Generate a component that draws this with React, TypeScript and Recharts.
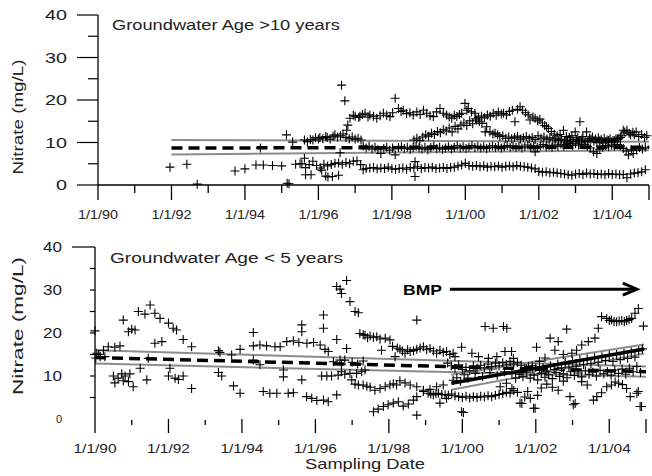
import React from "react";
import { ComposedChart, Scatter, Line, XAxis, YAxis, ReferenceLine } from "recharts";

const FONT = "'Liberation Sans', Arial, Helvetica, sans-serif";

const yearTicks = [1990, 1991, 1992, 1993, 1994, 1995, 1996, 1997, 1998, 1999, 2000, 2001, 2002, 2003, 2004, 2005];
const nitrateTicks = [0, 5, 10, 15, 20, 25, 30, 35, 40];

// ---- top panel: groundwater age > 10 years ----
const topEarly = [
  [1991.96, 4.2], [1992.42, 4.9], [1992.7, 0.2], [1993.73, 3.3], [1994.0, 3.8], [1994.3, 4.7], [1994.42, 8.7],
  [1994.5, 4.7], [1994.75, 4.6], [1995.0, 4.5], [1995.13, 11.8], [1995.15, 0.4], [1995.2, 0.3], [1995.3, 10.1],
  [1995.38, 4.9], [1995.5, 5.0], [1995.62, 6.3], [1995.65, 2.4], [1995.8, 2.4], [1996.09, 3.5], [1996.2, 2.1],
  [1996.26, 1.9], [1996.38, 2.0], [1996.55, 2.3], [1996.59, 7.6], [1998.63, 5.5], [1998.63, 2.0], [1998.09, 7.1],
];
const topLow = [
  [1995.55, 5.0], [1995.65, 4.1], [1995.75, 4.8], [1995.85, 5.6], [1995.95, 4.6], [1996.05, 4.0], [1996.15, 4.9],
  [1996.25, 4.5], [1996.35, 4.8], [1996.45, 5.1], [1996.55, 5.2], [1996.65, 4.9], [1996.75, 5.3], [1996.85, 5.0],
  [1996.95, 5.6], [1997.05, 5.7], [1997.15, 4.8], [1997.22, 3.6], [1997.3, 3.9], [1997.4, 4.0], [1997.5, 4.1],
  [1997.6, 3.8], [1997.7, 4.0], [1997.8, 3.9], [1997.9, 4.2], [1998.0, 3.8], [1998.1, 3.7], [1998.2, 3.9],
  [1998.3, 4.0], [1998.4, 3.7], [1998.5, 4.1], [1998.6, 4.0], [1998.7, 4.3], [1998.8, 3.9], [1998.9, 4.1],
  [1999.0, 4.0], [1999.1, 4.2], [1999.2, 3.9], [1999.3, 4.0], [1999.4, 4.1], [1999.5, 3.9], [1999.6, 4.1],
  [1999.7, 4.2], [1999.8, 4.5], [1999.9, 4.7], [2000.0, 5.1], [2000.1, 4.6], [2000.2, 4.4], [2000.3, 4.6],
  [2000.4, 4.3], [2000.5, 4.5], [2000.6, 4.2], [2000.7, 4.4], [2000.8, 4.3], [2000.9, 4.5], [2001.0, 4.2],
  [2001.1, 4.4], [2001.2, 4.5], [2001.3, 4.3], [2001.4, 4.6], [2001.5, 4.4], [2001.6, 4.3], [2001.7, 4.2],
  [2001.8, 4.0], [2001.9, 3.8], [2002.0, 3.2], [2002.1, 3.0], [2002.2, 3.1], [2002.3, 2.9], [2002.4, 3.0],
  [2002.5, 2.8], [2002.6, 2.7], [2002.7, 2.6], [2002.8, 2.4], [2002.9, 2.3], [2003.0, 2.6], [2003.1, 2.7],
  [2003.2, 2.5], [2003.3, 2.8], [2003.4, 2.6], [2003.5, 2.7], [2003.6, 2.5], [2003.7, 2.6], [2003.8, 2.4],
  [2003.9, 2.7], [2004.0, 2.5], [2004.1, 2.6], [2004.2, 2.4], [2004.3, 2.5], [2004.4, 1.7], [2004.5, 2.6],
  [2004.6, 2.8], [2004.7, 2.9], [2004.8, 3.1], [2004.9, 3.6],
];
const topHigh = [
  [1996.63, 23.5], [1996.72, 19.8], [1996.77, 12.9], [1996.8, 14.1], [1996.86, 15.7], [1996.95, 16.4], [1997.0, 16.2],
  [1997.1, 15.9], [1997.13, 16.2], [1997.2, 16.6], [1997.27, 16.9], [1997.35, 16.0], [1997.4, 16.5], [1997.5, 16.2],
  [1997.59, 15.7], [1997.68, 16.3], [1997.77, 16.9], [1997.86, 16.4], [1997.95, 16.1], [1998.02, 17.0], [1998.09, 20.4],
  [1998.18, 18.0], [1998.25, 17.3], [1998.31, 17.6], [1998.4, 16.8], [1998.49, 17.0], [1998.58, 16.5], [1998.68, 17.2],
  [1998.77, 16.6], [1998.86, 17.6], [1998.95, 16.9], [1999.04, 16.3], [1999.13, 16.1], [1999.22, 17.2], [1999.31, 18.0],
  [1999.4, 16.9], [1999.49, 16.5], [1999.56, 16.0], [1999.63, 15.7], [1999.7, 16.4], [1999.77, 16.1], [1999.84, 16.6],
  [1999.9, 16.9], [1999.99, 19.2], [2000.04, 17.6], [2000.08, 18.0], [2000.17, 17.2], [2000.26, 16.9], [2000.31, 15.3],
  [2000.38, 14.9], [2000.45, 14.5], [2000.54, 12.5], [2000.58, 13.7], [2000.67, 12.5], [2000.75, 12.0], [2000.81, 12.2],
  [2000.88, 11.8], [2000.94, 11.4], [2001.02, 11.6], [2001.1, 11.0], [2001.18, 11.3], [2001.26, 10.9], [2001.34, 11.2],
  [2001.42, 11.5], [2001.5, 10.8], [2001.58, 11.1], [2001.66, 11.4], [2001.74, 10.9], [2001.82, 11.2], [2001.9, 10.7],
  [2001.98, 11.6], [2002.06, 11.0], [2002.14, 11.3], [2002.22, 10.8], [2002.3, 11.1], [2002.38, 10.6], [2002.46, 10.9],
  [2002.54, 10.5], [2002.62, 10.8], [2002.7, 10.4], [2002.78, 10.1], [2002.86, 10.6], [2002.94, 10.3], [2003.02, 10.7],
  [2003.1, 10.4], [2003.18, 10.9], [2003.26, 10.2], [2003.34, 10.5], [2003.42, 10.8], [2003.5, 10.3], [2003.58, 10.0],
  [2003.66, 10.4], [2003.74, 9.9], [2003.82, 10.2], [2003.9, 10.5], [2003.98, 10.1], [2004.06, 10.4], [2004.14, 10.8],
  [2004.22, 11.2],
];
const topRise = [
  [1998.6, 10.6], [1998.68, 11.0], [1998.76, 10.5], [1998.84, 11.3], [1998.92, 11.8], [1999.0, 11.5], [1999.08, 12.2],
  [1999.16, 11.9], [1999.24, 12.6], [1999.32, 12.3], [1999.4, 13.0], [1999.48, 12.7], [1999.56, 13.4], [1999.64, 12.5],
  [1999.72, 13.8], [1999.8, 13.2], [1999.88, 14.1], [1999.96, 14.6], [2000.04, 14.0], [2000.12, 15.1], [2000.2, 14.4],
  [2000.28, 15.6], [2000.36, 15.9], [2000.44, 16.2], [2000.52, 15.8], [2000.6, 16.5], [2000.68, 16.2], [2000.76, 16.9],
  [2000.84, 16.4], [2000.9, 17.2], [2000.98, 16.7], [2001.04, 16.9], [2001.12, 16.5], [2001.2, 17.3], [2001.28, 17.6],
  [2001.35, 14.9], [2001.42, 17.8], [2001.49, 18.4], [2001.56, 17.6], [2001.64, 17.0], [2001.71, 16.5], [2001.76, 15.3],
  [2001.84, 16.0], [2001.9, 15.7], [2001.97, 15.1], [2002.03, 15.5], [2002.1, 14.6], [2002.16, 14.0], [2002.21, 13.7],
  [2002.26, 13.3], [2002.34, 12.6], [2002.42, 12.0], [2002.5, 11.6], [2002.58, 11.9], [2002.67, 12.9], [2002.75, 11.4],
  [2002.83, 11.2], [2002.9, 11.6], [2002.99, 12.5], [2003.06, 11.1], [2003.12, 14.9], [2003.2, 11.4], [2003.3, 12.5],
  [2003.38, 11.0], [2003.46, 11.3], [2003.54, 10.8], [2003.62, 11.1], [2003.7, 10.7], [2003.78, 11.0], [2003.86, 10.6],
  [2003.94, 10.9], [2004.02, 10.5], [2004.1, 10.8], [2004.18, 11.0], [2004.26, 11.6], [2004.3, 12.9], [2004.34, 12.5],
  [2004.4, 12.9], [2004.46, 12.2], [2004.5, 11.8], [2004.56, 12.4], [2004.6, 11.8], [2004.65, 12.5], [2004.72, 11.4],
  [2004.8, 11.9], [2004.88, 11.2], [2004.94, 11.6],
];
const topMid = [
  [1995.62, 10.6], [1995.7, 10.2], [1995.78, 10.7], [1995.85, 10.6], [1995.92, 11.1], [1996.0, 10.8], [1996.04, 11.2],
  [1996.12, 10.9], [1996.2, 11.4], [1996.24, 11.2], [1996.32, 10.8], [1996.4, 11.5], [1996.45, 11.8], [1996.52, 11.3],
  [1996.6, 11.6], [1996.67, 12.0], [1996.75, 11.2], [1996.84, 10.9], [1996.92, 11.3], [1997.0, 10.8], [1997.08, 11.0],
  [1997.16, 10.6], [1997.22, 9.2], [1997.3, 8.7], [1997.38, 9.1], [1997.46, 8.5], [1997.54, 8.9], [1997.62, 8.3],
  [1997.7, 7.4], [1997.78, 8.6], [1997.86, 8.9], [1997.94, 8.2], [1998.02, 8.7], [1998.18, 8.8], [1998.26, 9.0],
  [1998.34, 8.6], [1998.42, 8.9], [1998.5, 8.4], [1998.58, 8.8], [1998.66, 9.1], [1998.74, 8.7], [1998.82, 8.5],
  [1998.9, 8.9], [1998.98, 8.3], [1999.06, 8.8], [1999.14, 9.2], [1999.22, 8.6], [1999.3, 8.9], [1999.38, 8.4],
  [1999.46, 8.7], [1999.54, 9.0], [1999.62, 8.5], [1999.7, 8.8], [1999.78, 9.2], [1999.86, 8.7], [1999.94, 9.0],
  [2000.02, 8.6], [2000.1, 8.9], [2000.18, 9.3], [2000.26, 8.8], [2000.34, 9.1], [2000.42, 8.7], [2000.5, 9.0],
  [2000.58, 8.6], [2000.66, 8.9], [2000.74, 9.2], [2000.82, 8.8], [2000.9, 9.1], [2000.98, 8.7], [2001.06, 9.0],
  [2001.14, 9.3], [2001.22, 8.9], [2001.3, 9.2], [2001.38, 8.8], [2001.46, 9.1], [2001.54, 8.7], [2001.62, 9.0],
  [2001.7, 9.4], [2001.78, 8.9], [2001.86, 9.2], [2001.9, 7.8], [2001.96, 8.8], [2002.04, 9.1], [2002.12, 9.5],
  [2002.2, 9.0], [2002.28, 9.3], [2002.36, 8.9], [2002.44, 9.4], [2002.52, 9.1], [2002.6, 9.6], [2002.68, 9.2],
  [2002.76, 9.5], [2002.84, 9.8], [2002.92, 9.3], [2003.0, 9.7], [2003.08, 9.4], [2003.16, 9.9], [2003.24, 9.5],
  [2003.32, 9.1], [2003.4, 8.7], [2003.49, 7.8], [2003.58, 7.4], [2003.66, 8.4], [2003.74, 8.9], [2003.82, 9.3],
  [2003.9, 9.0], [2003.98, 9.4], [2004.06, 9.1], [2004.14, 9.5], [2004.22, 9.2], [2004.3, 8.6], [2004.38, 8.0],
  [2004.44, 7.1], [2004.52, 8.3], [2004.57, 7.4], [2004.66, 8.2], [2004.74, 8.8], [2004.82, 8.5], [2004.9, 8.9],
];
const topTrend = [[1992, 8.7], [2005, 8.9]];
const topUpper = [[1992, 10.6], [2005, 10.2]];
const topLower = [[1992, 7.2], [2005, 8.2]];

// ---- bottom panel: groundwater age < 5 years ----
const botEarlyHigh = [
  [1990.0, 20.5], [1990.02, 14.2], [1990.05, 15.3], [1990.1, 15.0], [1990.14, 14.5], [1990.23, 16.0], [1990.27, 14.5],
  [1990.36, 16.8], [1990.54, 16.7], [1990.68, 17.0], [1990.77, 23.0], [1990.91, 20.3], [1991.0, 20.9], [1991.09, 20.7],
  [1991.18, 25.0], [1991.36, 24.4], [1991.5, 26.5], [1991.63, 24.6], [1991.77, 23.4], [1992.0, 22.3], [1992.13, 21.1],
  [1992.22, 20.7], [1992.4, 18.5], [1992.63, 16.8], [1991.63, 17.6], [1991.82, 18.0],
];
const botEarlyLow = [
  [1990.5, 10.0], [1990.63, 9.5], [1990.73, 10.5], [1990.82, 10.0], [1990.95, 10.5], [1990.54, 8.4], [1990.77, 8.9],
  [1990.91, 8.7], [1991.04, 7.5], [1991.23, 11.8], [1991.41, 9.1], [1991.45, 14.1], [1992.04, 11.8], [1992.0, 10.0],
  [1992.18, 9.5], [1992.27, 9.2], [1992.4, 10.0], [1992.63, 7.1], [1993.36, 15.9], [1993.4, 15.5], [1993.36, 10.8],
  [1993.45, 10.0], [1993.72, 14.9], [1993.95, 16.2], [1993.77, 7.7], [1993.95, 6.0], [1994.31, 20.1], [1994.31, 13.7],
  [1994.49, 12.6], [1994.58, 6.4], [1994.76, 6.0], [1994.95, 6.0],
];
const bot1995 = [
  [1994.31, 17.0], [1994.49, 17.2], [1994.67, 17.0], [1994.9, 16.8], [1995.04, 16.8], [1995.22, 18.0], [1995.4, 18.2],
  [1995.55, 17.8], [1995.77, 17.6], [1995.95, 17.8], [1996.13, 17.2], [1996.26, 16.2], [1996.58, 18.5], [1996.85, 16.4],
  [1996.35, 15.7], [1995.63, 21.9], [1995.63, 20.3], [1996.22, 21.1], [1996.22, 24.2], [1995.13, 11.4], [1995.13, 9.8],
  [1995.63, 9.1], [1996.49, 13.3], [1996.67, 13.7], [1996.71, 12.6], [1996.8, 13.7], [1997.0, 13.2], [1997.15, 12.8],
  [1997.3, 13.5], [1995.26, 6.0], [1995.4, 6.1], [1995.76, 5.2], [1995.9, 4.8], [1996.04, 4.3], [1996.22, 4.4],
  [1996.35, 4.0], [1996.58, 5.6],
];
const botSpike = [
  [1996.58, 30.8], [1996.67, 30.2], [1996.71, 29.2], [1996.85, 32.2], [1996.94, 27.3], [1997.08, 25.0], [1997.17, 24.7],
];
const botUpper = [
  [1997.21, 19.9], [1997.3, 19.6], [1997.35, 19.5], [1997.42, 18.9], [1997.49, 19.3], [1997.58, 19.0], [1997.67, 19.1],
  [1997.76, 18.6], [1997.9, 18.8], [1998.03, 18.4], [1998.1, 16.9], [1998.17, 14.5], [1998.23, 16.5], [1998.3, 16.2],
  [1998.37, 15.8], [1998.44, 15.3], [1998.51, 16.1], [1998.58, 15.7], [1998.67, 15.9], [1998.76, 16.2], [1998.85, 16.5],
  [1998.94, 16.8], [1999.03, 16.1], [1999.12, 16.4], [1999.21, 15.8], [1999.3, 15.3], [1999.39, 16.0], [1999.48, 15.5],
  [1999.57, 15.7], [1999.66, 15.0], [1999.75, 15.3], [1999.8, 14.5], [1999.98, 16.7], [2000.26, 15.3], [2000.44, 14.5],
  [2000.71, 14.1], [2000.94, 14.5], [2001.16, 15.7], [2001.34, 15.7], [2001.39, 14.1], [1997.8, 16.0], [1998.76, 23.0],
  [2000.62, 21.5], [2000.84, 21.1], [2001.12, 21.5], [2001.21, 21.1],
];
const botFalling = [
  [1996.17, 10.0], [1996.31, 10.0], [1996.44, 10.0], [1996.62, 10.2], [1996.71, 11.0], [1996.8, 10.4], [1996.94, 10.6],
  [1997.12, 10.6], [1997.26, 11.0], [1997.35, 11.4], [1996.99, 9.1], [1997.08, 8.1], [1997.17, 7.9], [1997.3, 7.9],
  [1997.4, 7.6], [1997.49, 7.4], [1997.62, 6.7], [1997.76, 7.1], [1997.9, 7.5], [1998.03, 7.9], [1998.12, 8.2],
  [1998.21, 7.9], [1998.3, 8.9], [1998.44, 8.4], [1998.58, 7.9], [1998.76, 7.5], [1998.94, 6.7], [1999.07, 6.0],
  [1999.14, 5.8], [1999.21, 5.6], [1999.28, 5.9], [1999.35, 6.0], [1999.44, 5.7], [1999.53, 5.6], [1999.62, 5.5],
  [1999.71, 5.8], [1999.8, 5.4], [1999.9, 5.2], [2000.0, 5.0], [2000.1, 5.3], [2000.2, 4.9], [2000.3, 5.2],
  [2000.4, 5.0], [2000.5, 5.3], [2000.6, 5.1], [2000.7, 5.4], [2000.8, 5.2], [2000.9, 5.5], [2001.0, 5.7],
  [2001.1, 5.9], [2001.2, 6.2], [2001.3, 6.0], [2001.4, 6.6],
];
const botLowest = [
  [1997.58, 1.7], [1997.71, 2.3], [1997.85, 2.9], [1997.98, 3.3], [1998.12, 3.7], [1998.26, 4.0], [1998.39, 3.0],
  [1998.53, 3.5], [1998.67, 4.4], [1998.76, 5.2], [1998.76, 0.9], [1998.94, 6.4], [1999.12, 6.9], [1999.3, 7.5],
  [1999.39, 3.7], [1999.48, 7.9], [1999.57, 4.8], [1999.98, 1.7], [2000.03, 1.5],
];
const botMiddle = [
  [1999.6, 13.0], [1999.7, 12.4], [1999.75, 9.0], [1999.8, 11.8], [1999.85, 9.6], [1999.9, 12.6], [1999.95, 8.8],
  [2000.0, 11.5], [2000.05, 10.3], [2000.1, 12.0], [2000.15, 9.5], [2000.2, 11.2], [2000.3, 12.3], [2000.35, 10.6],
  [2000.4, 11.8], [2000.5, 12.5], [2000.55, 9.9], [2000.6, 11.9], [2000.7, 12.8], [2000.75, 10.8], [2000.8, 12.2],
  [2000.9, 13.0], [2000.95, 10.2], [2001.0, 12.4], [2001.1, 13.1], [2001.15, 11.0], [2001.2, 12.6], [2001.3, 13.4],
  [2001.35, 10.7], [2001.4, 12.8], [2001.5, 13.2], [2001.6, 12.5], [2001.7, 11.8], [2001.8, 12.2], [2001.9, 11.6],
  [2002.0, 12.0], [2002.1, 11.3], [2002.2, 11.9], [2002.3, 11.0], [2002.4, 12.4], [2002.5, 11.5], [2002.6, 12.8],
  [2002.7, 11.9], [2002.8, 13.2], [2002.9, 12.1], [2003.0, 13.5], [2003.1, 12.3], [2003.2, 13.8], [2003.3, 12.6],
  [2003.4, 14.0], [2003.5, 12.9], [2003.6, 14.3], [2003.7, 13.2], [2003.8, 14.5], [2003.9, 13.6], [2004.0, 14.8],
  [2004.1, 13.4], [2004.2, 15.0], [2004.3, 13.8], [2004.4, 15.3], [2004.5, 14.1], [2004.6, 15.6], [2004.7, 14.4],
  [2004.8, 15.9], [2004.9, 16.3],
];
const botFlat = [
  [2001.55, 10.4], [2001.65, 9.8], [2001.75, 10.9], [2001.85, 9.5], [2001.95, 10.2], [2002.05, 9.1], [2002.15, 10.6],
  [2002.25, 9.7], [2002.35, 10.3], [2002.45, 9.4], [2002.55, 10.8], [2002.65, 9.9], [2002.75, 10.5], [2002.85, 9.6],
  [2002.95, 11.0], [2003.05, 10.1], [2003.15, 10.7], [2003.25, 9.8], [2003.35, 11.2], [2003.45, 10.4], [2003.55, 10.9],
  [2003.65, 10.0], [2003.75, 11.3], [2003.85, 10.5], [2003.95, 11.0], [2004.05, 10.2], [2004.15, 11.4], [2004.25, 10.6],
  [2004.35, 11.6], [2004.45, 10.4], [2004.55, 11.8], [2004.65, 11.0], [2004.75, 12.2], [2004.85, 10.8],
];
const botLate = [
  [2001.03, 7.5], [2001.2, 8.3], [2001.35, 7.1], [2001.5, 6.2], [2001.57, 3.7], [2001.62, 3.6], [2001.7, 5.1],
  [2001.78, 6.4], [2001.85, 4.8], [2001.94, 2.5], [2001.98, 2.5], [2002.05, 5.5], [2002.15, 7.2], [2002.3, 8.1],
  [2002.45, 7.4], [2002.61, 6.7], [2002.75, 8.8], [2002.93, 5.2], [2003.02, 3.3], [2003.07, 3.6], [2003.25, 8.7],
  [2003.4, 7.9], [2003.57, 4.4], [2003.66, 5.2], [2003.79, 6.1], [2003.93, 7.5], [2004.06, 7.9], [2004.16, 8.6],
  [2004.25, 8.3], [2004.36, 8.0], [2004.47, 7.1], [2004.57, 5.2], [2004.75, 6.0], [2004.79, 6.4], [2004.84, 2.9],
  [2004.88, 2.9],
];
const botSteep = [
  [2001.45, 9.5], [2001.6, 10.8], [2001.75, 11.7], [2001.9, 12.4], [2002.02, 16.7], [2002.1, 13.4], [2002.25, 14.2],
  [2002.39, 18.8], [2002.52, 16.0], [2002.61, 18.0], [2002.75, 15.0], [2002.84, 20.9], [2002.98, 15.3], [2003.11, 16.0],
  [2003.25, 17.2], [2003.43, 18.0], [2003.61, 18.8], [2003.7, 21.1], [2003.79, 23.8], [2003.93, 23.4], [2004.0, 22.9],
  [2004.06, 23.0], [2004.13, 22.7], [2004.2, 22.6], [2004.27, 22.8], [2004.34, 22.9], [2004.41, 22.6], [2004.47, 22.9],
  [2004.54, 23.1], [2004.61, 23.4], [2004.7, 24.6], [2004.79, 25.7], [2004.93, 21.6],
];
const botTrend = [[1990, 14.3], [2005, 11.0]];
const botUpperCi = [[1990, 16.0], [2005, 12.2]];
const botLowerCi = [[1990, 12.9], [2005, 9.8]];
const bmpTrend = [[1999.7, 8.3], [2004.95, 16.3]];
const bmpUpper = [[1999.7, 10.3], [2004.95, 17.3]];
const bmpLower = [[1999.7, 6.8], [2004.95, 15.2]];
const bmpArrow = [[1999.66, 30.2], [2004.75, 30.2]];

const topSets = [topEarly, topLow, topHigh, topRise, topMid];
const botSets = [botEarlyHigh, botEarlyLow, bot1995, botSpike, botUpper, botFalling, botLowest, botMiddle, botFlat, botLate, botSteep];

const pts = (a: number[][]) => a.map(([x, y]) => ({ x, y }));

const Plus = (props: any) => {
  const { cx, cy } = props;
  if (cx == null || cy == null) return null;
  return <path d={`M${cx - 4.5},${cy}h9M${cx},${cy - 4.5}v9`} stroke="#000" strokeWidth={1.1} fill="none" />;
};

const yearLabel = (v: number) => `1/1/${String(v).slice(2)}`;

const makeXTick = (majorLen: number, minorLen: number, minorOff: number, labelW: number, labelDy: number) => (props: any) => {
  const { x, y, payload } = props;
  const v = payload.value;
  const major = v % 2 === 0 || v === 2005;
  return (
    <g>
      {major ? (
        <line x1={x} x2={x} y1={y} y2={y + majorLen} stroke="#000" strokeWidth={1.3} />
      ) : (
        <line x1={x} x2={x} y1={y + minorOff} y2={y + minorOff + minorLen} stroke="#000" strokeWidth={1.3} />
      )}
      {v % 2 === 0 && v < 2005 && (
        <text x={x} y={y + labelDy} textAnchor="middle" fontSize={13} fontFamily={FONT} fill="#222"
          textLength={labelW} lengthAdjust="spacingAndGlyphs">{yearLabel(v)}</text>
      )}
    </g>
  );
};

const TopYTick = (props: any) => {
  const { x, y, payload } = props;
  const v = payload.value;
  const major = v % 10 === 0;
  return (
    <g>
      <line x1={x - (major ? 21 : 10)} x2={x} y1={y} y2={y} stroke="#000" strokeWidth={1.2} />
      {major && (
        <text x={x - 31} y={y + 5} textAnchor="end" fontSize={14} fontFamily={FONT} fill="#222"
          textLength={String(v).length * 11} lengthAdjust="spacingAndGlyphs">{v}</text>
      )}
    </g>
  );
};

const BotYTick = (props: any) => {
  const { x, y, payload } = props;
  const v = payload.value;
  const major = v % 10 === 0;
  return (
    <g>
      {v > 0 && <line x1={x - (v === 40 ? 23 : 5)} x2={x} y1={y} y2={y} stroke="#000" strokeWidth={1.2} />}
      {major && v > 0 && (
        <text x={x - 33} y={y + 5} textAnchor="end" fontSize={14} fontFamily={FONT} fill="#222"
          textLength={19} lengthAdjust="spacingAndGlyphs">{v}</text>
      )}
      {v === 0 && (
        <text x={x - 33} y={y + 4} textAnchor="end" fontSize={11} fontFamily={FONT} fill="#222">0</text>
      )}
    </g>
  );
};

const ArrowShape = (props: any) => {
  const { x1, y1, x2, y2 } = props;
  if (x1 == null) return null;
  return (
    <g>
      <line x1={x1} y1={y1} x2={x2 - 2} y2={y2} stroke="#000" strokeWidth={3} />
      <path d={`M${x2 - 14},${y2 - 6}L${x2},${y2}L${x2 - 14},${y2 + 6}`} stroke="#000" strokeWidth={3} fill="none" />
    </g>
  );
};

const trendLine = (d: number[][], key: string, stroke: string, width: number, dash?: string) => (
  <Line key={key} data={pts(d)} dataKey="y" type="linear" stroke={stroke} strokeWidth={width}
    strokeDasharray={dash} dot={false} activeDot={false} isAnimationActive={false} />
);

export default function App() {
  return (
    <div style={{ position: "absolute", left: 0, top: 0, width: 652, height: 476, background: "#fff" }}>
      <div style={{ position: "absolute", left: 0, top: 0 }}>
        <ComposedChart width={652} height={232} margin={{ top: 15, right: 3, bottom: 0, left: 0 }}>
          <XAxis type="number" dataKey="x" domain={[1990, 2005]} ticks={yearTicks} interval={0}
            tickLine={false} tickSize={0} tickMargin={0} height={47}
            axisLine={{ stroke: "#000", strokeWidth: 1.3 }} tick={makeXTick(15, 8, 0, 40, 34)} />
          <YAxis type="number" dataKey="y" domain={[0, 40]} ticks={nitrateTicks} interval={0} width={98}
            tickLine={false} tickSize={0} tickMargin={0}
            axisLine={{ stroke: "#000", strokeWidth: 1.3 }} tick={TopYTick} />
          {topSets.map((s, i) => (
            <Scatter key={i} data={pts(s)} shape={Plus} isAnimationActive={false} />
          ))}
          {trendLine(topUpper, "tu", "#8c8c8c", 2)}
          {trendLine(topLower, "tl", "#8c8c8c", 2)}
          {trendLine(topTrend, "tt", "#000", 3.5, "11 6")}
        </ComposedChart>
      </div>
      <div style={{ position: "absolute", left: 0, top: 232 }}>
        <ComposedChart width={652} height={244} margin={{ top: 15, right: 6, bottom: 0, left: 0 }}>
          <XAxis type="number" dataKey="x" domain={[1990, 2005]} ticks={yearTicks} interval={0}
            tickLine={false} tickSize={0} tickMargin={0} height={57}
            axisLine={false} tick={makeXTick(14, 5, 1, 43, 34)} />
          <YAxis type="number" dataKey="y" domain={[0, 40]} ticks={nitrateTicks} interval={0} width={95}
            tickLine={false} tickSize={0} tickMargin={0}
            axisLine={{ stroke: "#000", strokeWidth: 1.3 }} tick={BotYTick} />
          {botSets.map((s, i) => (
            <Scatter key={i} data={pts(s)} shape={Plus} isAnimationActive={false} />
          ))}
          {trendLine(botUpperCi, "bu", "#8c8c8c", 2)}
          {trendLine(botLowerCi, "bl", "#8c8c8c", 2)}
          {trendLine(botTrend, "bt", "#000", 3.5, "11 6")}
          {trendLine(bmpUpper, "mu", "#8c8c8c", 2)}
          {trendLine(bmpLower, "ml", "#8c8c8c", 2)}
          {trendLine(bmpTrend, "mt", "#000", 3.5)}
          <ReferenceLine segment={pts(bmpArrow)} ifOverflow="visible" shape={ArrowShape} />
        </ComposedChart>
      </div>
      <svg width={652} height={476} style={{ position: "absolute", left: 0, top: 0, pointerEvents: "none" }}
        fontFamily={FONT} fill="#222">
        <text x={112} y={30} fontSize={14} textLength={228} lengthAdjust="spacingAndGlyphs">Groundwater Age &gt;10 years</text>
        <text x={110} y={263} fontSize={14} textLength={233} lengthAdjust="spacingAndGlyphs">Groundwater Age &lt; 5 years</text>
        <text transform="translate(23,117) rotate(-90)" textAnchor="middle" fontSize={15}
          textLength={115} lengthAdjust="spacingAndGlyphs">Nitrate (mg/L)</text>
        <text transform="translate(23,326) rotate(-90)" textAnchor="middle" fontSize={15}
          textLength={138} lengthAdjust="spacingAndGlyphs">Nitrate (mg/L)</text>
        <text x={365} y={469} textAnchor="middle" fontSize={15} textLength={120} lengthAdjust="spacingAndGlyphs">Sampling Date</text>
        <text x={403} y={295} fontSize={15} fontWeight="bold" fill="#000" textLength={39} lengthAdjust="spacingAndGlyphs">BMP</text>
      </svg>
    </div>
  );
}
